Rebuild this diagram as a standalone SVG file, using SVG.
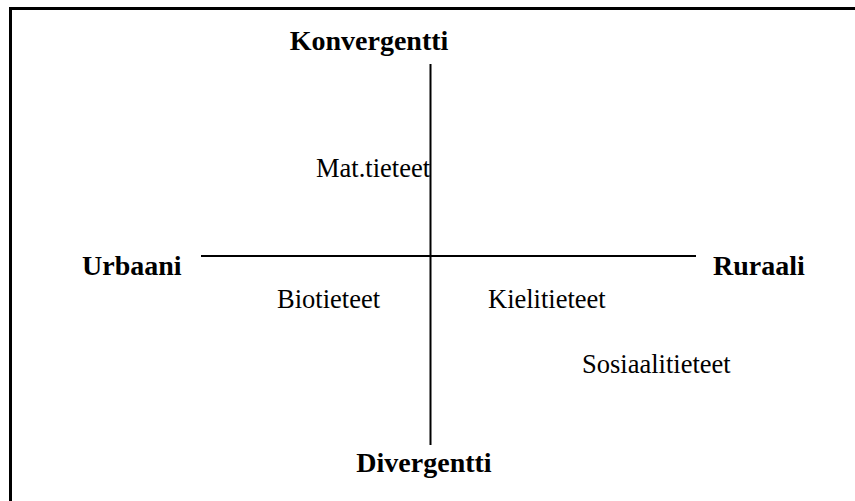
<svg xmlns="http://www.w3.org/2000/svg" width="855" height="501" viewBox="0 0 855 501">
<style>
.b{font-family:"Liberation Serif","Times New Roman",serif;font-weight:bold;font-size:28px;fill:#000}
.r{font-family:"Liberation Serif","Times New Roman",serif;font-size:26.5px;fill:#000}
.ax{stroke:#000;stroke-width:2;fill:none}
.fr{stroke:#000;stroke-width:3;fill:none}
</style>
<rect width="855" height="501" fill="#fff"/>
<g id="frame"><path class="fr" d="M10.5,501 V8.5 H855"/></g>
<g id="connectors">
<line class="ax" x1="201" y1="256" x2="696" y2="256"/>
<line class="ax" x1="430.5" y1="64" x2="430.5" y2="445"/>
</g>
<g id="konvergentti"><text class="b" x="369" y="50" text-anchor="middle">Konvergentti</text></g>
<g id="divergentti"><text class="b" x="424" y="472" text-anchor="middle">Divergentti</text></g>
<g id="urbaani"><text class="b" x="82" y="275">Urbaani</text></g>
<g id="ruraali"><text class="b" x="713" y="275">Ruraali</text></g>
<g id="mat"><text class="r" x="316" y="177">Mat.tieteet</text></g>
<g id="bio"><text class="r" x="277" y="308">Biotieteet</text></g>
<g id="kieli"><text class="r" x="488" y="308">Kielitieteet</text></g>
<g id="sosiaali"><text class="r" x="582" y="373">Sosiaalitieteet</text></g>
</svg>
